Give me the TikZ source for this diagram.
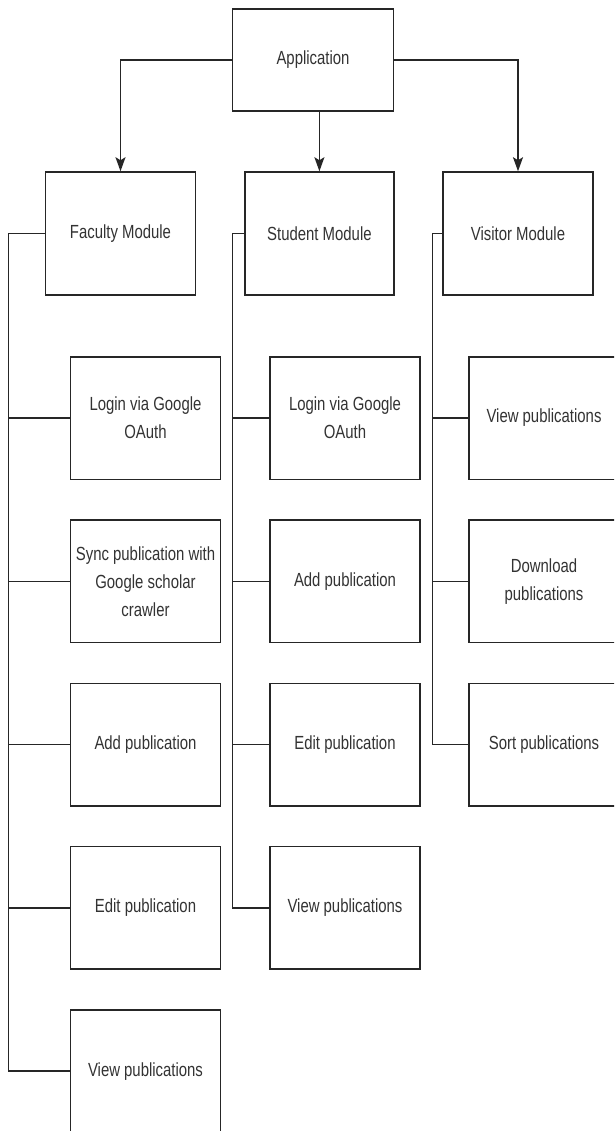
\documentclass[tikz,border=0pt]{standalone}
\usepackage{fontspec}
\setmainfont[FakeStretch=0.785]{Liberation Sans}
\usetikzlibrary{arrows.meta}
\definecolor{txt}{HTML}{333333}
\definecolor{ln}{HTML}{262626}
\begin{document}
\begin{tikzpicture}[x=1pt,y=-1pt,
  box/.style={draw=ln, line width=1.5pt, inner sep=0pt, align=center,
    text=txt, font=\fontsize{19}{28}\selectfont},
  top/.style={box, minimum width=161pt, minimum height=102pt},
  mod/.style={box, minimum width=150pt, minimum height=123pt},
  leaf/.style={box, minimum width=150pt, minimum height=122.5pt},
  conn/.style={draw=ln, line width=1.5pt, line join=miter},
  arr/.style={conn, -{Stealth[length=14pt,width=10pt,inset=3pt]}}]
\useasboundingbox (0,0) rectangle (614,1131);
\clip (0,0) rectangle (614,1131);
\fill[white] (0,0) rectangle (614,1131);

\node[top] (app) at (313,60) {Application};
\node[mod] (fac) at (120.5,233.5) {Faculty Module};
\node[mod, minimum width=149pt] (stu) at (319.4,233.5) {Student Module};
\node[mod] (vis) at (518,233.5) {Visitor Module};

% faculty children
\node[leaf] (f1) at (145.5,418) {Login via Google\\OAuth};
\node[leaf] (f2) at (145.5,581.3) {Sync publication with\\Google scholar\\crawler};
\node[leaf] (f3) at (145.5,744.6) {Add publication};
\node[leaf] (f4) at (145.5,907.9) {Edit publication};
\node[leaf] (f5) at (145.5,1071.2) {View publications};

% student children
\node[leaf] (s1) at (345,418) {Login via Google\\OAuth};
\node[leaf] (s2) at (345,581.3) {Add publication};
\node[leaf] (s3) at (345,744.6) {Edit publication};
\node[leaf] (s4) at (345,907.9) {View publications};

% visitor children
\node[leaf] (v1) at (544,418) {View publications};
\node[leaf] (v2) at (544,581.3) {Download\\publications};
\node[leaf] (v3) at (544,744.6) {Sort publications};

% arrows from application
\draw[arr] (app.west) -| (fac.north);
\draw[arr] (stu.north |- app.south) -- (stu.north);
\draw[arr] (app.east) -| (vis.north);

% buses
\coordinate (fx) at (8.5,0);
\coordinate (sx) at (232.5,0);
\coordinate (vx) at (432.3,0);

\draw[conn] (fac.west) -- (fac.west -| fx) -- (f5.west -| fx) -- (f5.west);
\foreach \n in {f1,f2,f3,f4} \draw[conn] (\n.west -| fx) -- (\n.west);

\draw[conn] (stu.west) -- (stu.west -| sx) -- (s4.west -| sx) -- (s4.west);
\foreach \n in {s1,s2,s3} \draw[conn] (\n.west -| sx) -- (\n.west);

\draw[conn] (vis.west) -- (vis.west -| vx) -- (v3.west -| vx) -- (v3.west);
\foreach \n in {v1,v2} \draw[conn] (\n.west -| vx) -- (\n.west);
\end{tikzpicture}
\end{document}
